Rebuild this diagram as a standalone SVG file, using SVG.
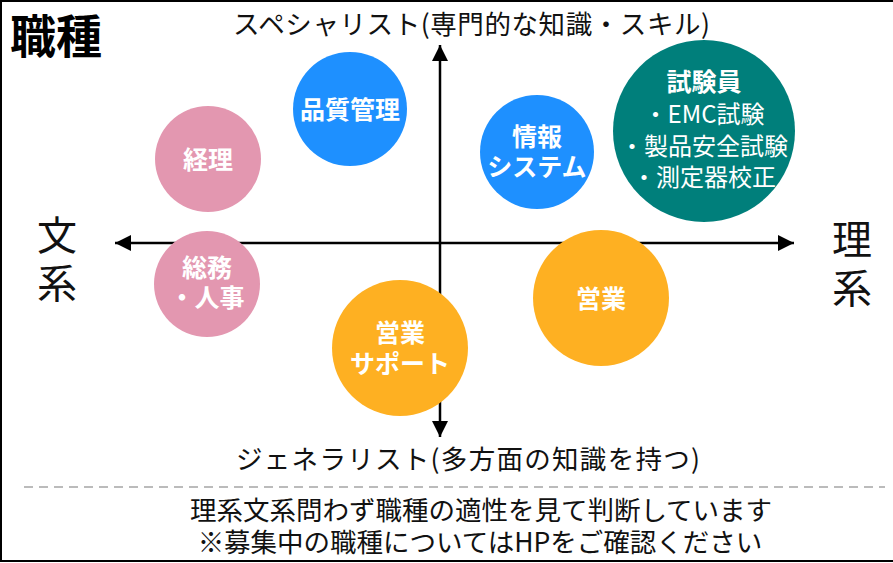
<svg xmlns="http://www.w3.org/2000/svg" width="893" height="563" viewBox="0 0 893 563">
<style>
text{font-family:"Noto Sans CJK JP","Noto Sans",sans-serif;}
.lbl{font-size:26.5px;fill:#111;}
.side{font-size:40px;fill:#111;text-anchor:middle;}
.nt{font-size:25px;font-weight:700;fill:#fff;text-anchor:middle;}
.ns{font-size:24px;fill:#fff;text-anchor:middle;}
.axis{stroke:#000;stroke-width:2.5;fill:none;}
.pink{fill:#E397B0;}
.blue{fill:#1E90FF;}
.teal{fill:#007F7B;}
.orange{fill:#FEB022;}
</style>
<defs>
<marker id="ah" markerUnits="userSpaceOnUse" markerWidth="16" markerHeight="16" viewBox="0 0 16 16" refX="16" refY="8" orient="auto">
<path d="M0,0 L16,8 L0,16 Z" fill="#000"/>
</marker>
</defs>
<rect x="0" y="0" width="893" height="563" fill="#fff"/>
<rect x="1" y="1" width="910" height="560" fill="none" stroke="#000" stroke-width="2"/>
<text x="10" y="53" font-size="46" font-weight="700" fill="#000">職種</text>
<g id="connectors">
<line class="axis" x1="440" y1="243" x2="115" y2="243" marker-end="url(#ah)"/>
<line class="axis" x1="440" y1="243" x2="794" y2="243" marker-end="url(#ah)"/>
<line class="axis" x1="440" y1="243" x2="440" y2="45" marker-end="url(#ah)"/>
<line class="axis" x1="440" y1="243" x2="440" y2="437" marker-end="url(#ah)"/>
</g>
<g id="axis-labels">
<text class="lbl" x="233" y="34" textLength="477" lengthAdjust="spacing">スペシャリスト(専門的な知識・スキル)</text>
<text class="lbl" x="236" y="469" textLength="464" lengthAdjust="spacing">ジェネラリスト(多方面の知識を持つ)</text>
<text class="side" x="57" y="250">文</text>
<text class="side" x="57" y="298">系</text>
<text class="side" x="852" y="254">理</text>
<text class="side" x="852" y="303">系</text>
</g>
<g id="node-keiri"><circle class="pink" cx="208" cy="159" r="53"/><text class="nt" x="208" y="169">経理</text></g>
<g id="node-hinshitsu"><circle class="blue" cx="350" cy="109" r="57"/><text class="nt" x="350" y="119">品質管理</text></g>
<g id="node-joho"><circle class="blue" cx="537" cy="152" r="57"/><text class="nt" x="537" y="146">情報</text><text class="nt" x="537" y="176">システム</text></g>
<g id="node-shikenin"><circle class="teal" cx="704" cy="131" r="91"/><text class="nt" x="704" y="91">試験員</text><text class="ns" x="704" y="123">・EMC試験</text><text class="ns" x="704" y="155">・製品安全試験</text><text class="ns" x="704" y="186">・測定器校正</text></g>
<g id="node-somu"><circle class="pink" cx="207" cy="284" r="53"/><text class="nt" x="207" y="277">総務</text><text class="nt" x="207" y="307">・人事</text></g>
<g id="node-eigyo-support"><circle class="orange" cx="400" cy="348" r="68"/><text class="nt" x="400" y="342">営業</text><text class="nt" x="400" y="373">サポート</text></g>
<g id="node-eigyo"><circle class="orange" cx="601" cy="298" r="68"/><text class="nt" x="601" y="308">営業</text></g>
<line x1="24" y1="487" x2="885" y2="487" stroke="#BBB" stroke-width="2" stroke-dasharray="9,6"/>
<g id="footer">
<text class="lbl" x="481" y="520" text-anchor="middle">理系文系問わず職種の適性を見て判断しています</text>
<text class="lbl" x="480" y="552" text-anchor="middle">※募集中の職種についてはHPをご確認ください</text>
</g>
</svg>
